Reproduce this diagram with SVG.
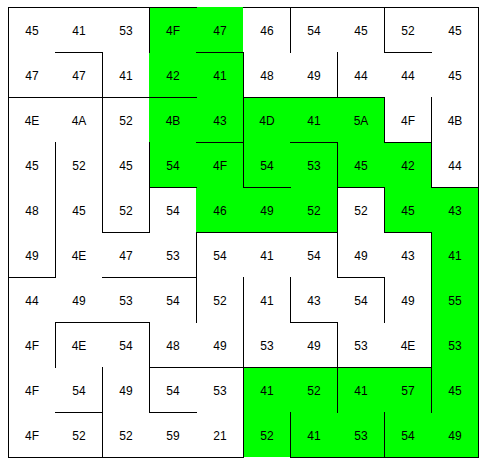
<svg xmlns="http://www.w3.org/2000/svg" width="488" height="465" viewBox="0 0 488 465">
<style>
.bg{fill:#fff}
.g{fill:#00ff00}
text{font-family:"Liberation Sans",Arial,sans-serif;font-size:12px;fill:#000;text-anchor:middle}
.w{fill:none;stroke:#000;stroke-width:1;stroke-linecap:square}
</style>
<rect class="bg" x="0" y="0" width="488" height="465"/>
<g id="cells">
<g id="r0c0"><text x="32" y="35">45</text></g>
<g id="r0c1"><text x="79" y="35">41</text></g>
<g id="r0c2"><text x="126" y="35">53</text></g>
<g id="r0c3"><rect class="g" x="149" y="7" width="47" height="45"/><text x="173" y="35">4F</text></g>
<g id="r0c4"><rect class="g" x="196" y="7" width="47" height="45"/><text x="220" y="35">47</text></g>
<g id="r0c5"><text x="267" y="35">46</text></g>
<g id="r0c6"><text x="314" y="35">54</text></g>
<g id="r0c7"><text x="361" y="35">45</text></g>
<g id="r0c8"><text x="408" y="35">52</text></g>
<g id="r0c9"><text x="455" y="35">45</text></g>

<g id="r1c0"><text x="32" y="80">47</text></g>
<g id="r1c1"><text x="79" y="80">47</text></g>
<g id="r1c2"><text x="126" y="80">41</text></g>
<g id="r1c3"><rect class="g" x="149" y="52" width="47" height="45"/><text x="173" y="80">42</text></g>
<g id="r1c4"><rect class="g" x="196" y="52" width="47" height="45"/><text x="220" y="80">41</text></g>
<g id="r1c5"><text x="267" y="80">48</text></g>
<g id="r1c6"><text x="314" y="80">49</text></g>
<g id="r1c7"><text x="361" y="80">44</text></g>
<g id="r1c8"><text x="408" y="80">44</text></g>
<g id="r1c9"><text x="455" y="80">45</text></g>

<g id="r2c0"><text x="32" y="125">4E</text></g>
<g id="r2c1"><text x="79" y="125">4A</text></g>
<g id="r2c2"><text x="126" y="125">52</text></g>
<g id="r2c3"><rect class="g" x="149" y="97" width="47" height="45"/><text x="173" y="125">4B</text></g>
<g id="r2c4"><rect class="g" x="196" y="97" width="47" height="45"/><text x="220" y="125">43</text></g>
<g id="r2c5"><rect class="g" x="243" y="97" width="47" height="45"/><text x="267" y="125">4D</text></g>
<g id="r2c6"><rect class="g" x="290" y="97" width="47" height="45"/><text x="314" y="125">41</text></g>
<g id="r2c7"><rect class="g" x="337" y="97" width="47" height="45"/><text x="361" y="125">5A</text></g>
<g id="r2c8"><text x="408" y="125">4F</text></g>
<g id="r2c9"><text x="455" y="125">4B</text></g>

<g id="r3c0"><text x="32" y="170">45</text></g>
<g id="r3c1"><text x="79" y="170">52</text></g>
<g id="r3c2"><text x="126" y="170">45</text></g>
<g id="r3c3"><rect class="g" x="149" y="142" width="47" height="45"/><text x="173" y="170">54</text></g>
<g id="r3c4"><rect class="g" x="196" y="142" width="47" height="45"/><text x="220" y="170">4F</text></g>
<g id="r3c5"><rect class="g" x="243" y="142" width="47" height="45"/><text x="267" y="170">54</text></g>
<g id="r3c6"><rect class="g" x="290" y="142" width="47" height="45"/><text x="314" y="170">53</text></g>
<g id="r3c7"><rect class="g" x="337" y="142" width="47" height="45"/><text x="361" y="170">45</text></g>
<g id="r3c8"><rect class="g" x="384" y="142" width="47" height="45"/><text x="408" y="170">42</text></g>
<g id="r3c9"><text x="455" y="170">44</text></g>

<g id="r4c0"><text x="32" y="215">48</text></g>
<g id="r4c1"><text x="79" y="215">45</text></g>
<g id="r4c2"><text x="126" y="215">52</text></g>
<g id="r4c3"><text x="173" y="215">54</text></g>
<g id="r4c4"><rect class="g" x="196" y="187" width="47" height="45"/><text x="220" y="215">46</text></g>
<g id="r4c5"><rect class="g" x="243" y="187" width="47" height="45"/><text x="267" y="215">49</text></g>
<g id="r4c6"><rect class="g" x="290" y="187" width="47" height="45"/><text x="314" y="215">52</text></g>
<g id="r4c7"><text x="361" y="215">52</text></g>
<g id="r4c8"><rect class="g" x="384" y="187" width="47" height="45"/><text x="408" y="215">45</text></g>
<g id="r4c9"><rect class="g" x="431" y="187" width="47" height="45"/><text x="455" y="215">43</text></g>

<g id="r5c0"><text x="32" y="260">49</text></g>
<g id="r5c1"><text x="79" y="260">4E</text></g>
<g id="r5c2"><text x="126" y="260">47</text></g>
<g id="r5c3"><text x="173" y="260">53</text></g>
<g id="r5c4"><text x="220" y="260">54</text></g>
<g id="r5c5"><text x="267" y="260">41</text></g>
<g id="r5c6"><text x="314" y="260">54</text></g>
<g id="r5c7"><text x="361" y="260">49</text></g>
<g id="r5c8"><text x="408" y="260">43</text></g>
<g id="r5c9"><rect class="g" x="431" y="232" width="47" height="45"/><text x="455" y="260">41</text></g>

<g id="r6c0"><text x="32" y="305">44</text></g>
<g id="r6c1"><text x="79" y="305">49</text></g>
<g id="r6c2"><text x="126" y="305">53</text></g>
<g id="r6c3"><text x="173" y="305">54</text></g>
<g id="r6c4"><text x="220" y="305">52</text></g>
<g id="r6c5"><text x="267" y="305">41</text></g>
<g id="r6c6"><text x="314" y="305">43</text></g>
<g id="r6c7"><text x="361" y="305">54</text></g>
<g id="r6c8"><text x="408" y="305">49</text></g>
<g id="r6c9"><rect class="g" x="431" y="277" width="47" height="45"/><text x="455" y="305">55</text></g>

<g id="r7c0"><text x="32" y="350">4F</text></g>
<g id="r7c1"><text x="79" y="350">4E</text></g>
<g id="r7c2"><text x="126" y="350">54</text></g>
<g id="r7c3"><text x="173" y="350">48</text></g>
<g id="r7c4"><text x="220" y="350">49</text></g>
<g id="r7c5"><text x="267" y="350">53</text></g>
<g id="r7c6"><text x="314" y="350">49</text></g>
<g id="r7c7"><text x="361" y="350">53</text></g>
<g id="r7c8"><text x="408" y="350">4E</text></g>
<g id="r7c9"><rect class="g" x="431" y="322" width="47" height="45"/><text x="455" y="350">53</text></g>

<g id="r8c0"><text x="32" y="395">4F</text></g>
<g id="r8c1"><text x="79" y="395">54</text></g>
<g id="r8c2"><text x="126" y="395">49</text></g>
<g id="r8c3"><text x="173" y="395">54</text></g>
<g id="r8c4"><text x="220" y="395">53</text></g>
<g id="r8c5"><rect class="g" x="243" y="367" width="47" height="45"/><text x="267" y="395">41</text></g>
<g id="r8c6"><rect class="g" x="290" y="367" width="47" height="45"/><text x="314" y="395">52</text></g>
<g id="r8c7"><rect class="g" x="337" y="367" width="47" height="45"/><text x="361" y="395">41</text></g>
<g id="r8c8"><rect class="g" x="384" y="367" width="47" height="45"/><text x="408" y="395">57</text></g>
<g id="r8c9"><rect class="g" x="431" y="367" width="47" height="45"/><text x="455" y="395">45</text></g>

<g id="r9c0"><text x="32" y="440">4F</text></g>
<g id="r9c1"><text x="79" y="440">52</text></g>
<g id="r9c2"><text x="126" y="440">52</text></g>
<g id="r9c3"><text x="173" y="440">59</text></g>
<g id="r9c4"><text x="220" y="440">21</text></g>
<g id="r9c5"><rect class="g" x="243" y="412" width="47" height="45"/><text x="267" y="440">52</text></g>
<g id="r9c6"><rect class="g" x="290" y="412" width="47" height="45"/><text x="314" y="440">41</text></g>
<g id="r9c7"><rect class="g" x="337" y="412" width="47" height="45"/><text x="361" y="440">53</text></g>
<g id="r9c8"><rect class="g" x="384" y="412" width="47" height="45"/><text x="408" y="440">54</text></g>
<g id="r9c9"><rect class="g" x="431" y="412" width="47" height="45"/><text x="455" y="440">49</text></g>
</g>
<g id="walls">
<path class="w" d="M8.5 7.5H196.5M243.5 7.5H478.5M8.5 457.5H243.5M290.5 457.5H478.5M8.5 7.5V457.5M478.5 7.5V457.5"/>
<path class="w" d="M55.5 52.5H102.5M196.5 52.5H243.5M384.5 52.5H431.5M8.5 97.5H196.5M243.5 97.5H384.5M196.5 142.5H243.5M290.5 142.5H337.5M384.5 142.5H431.5M149.5 187.5H196.5M243.5 187.5H290.5M337.5 187.5H384.5M431.5 187.5H478.5M102.5 232.5H149.5M196.5 232.5H337.5M384.5 232.5H431.5M8.5 277.5H55.5M102.5 277.5H196.5M337.5 277.5H384.5M55.5 322.5H149.5M290.5 322.5H337.5M149.5 367.5H431.5M55.5 412.5H102.5M149.5 412.5H196.5"/>
<path class="w" d="M55.5 142.5V277.5M55.5 322.5V367.5M102.5 52.5V232.5M102.5 367.5V457.5M149.5 7.5V52.5M149.5 142.5V232.5M149.5 322.5V412.5M196.5 232.5V322.5M243.5 52.5V187.5M243.5 277.5V457.5M290.5 7.5V52.5M290.5 277.5V322.5M290.5 412.5V457.5M337.5 52.5V97.5M337.5 142.5V277.5M337.5 322.5V412.5M384.5 7.5V52.5M384.5 97.5V142.5M384.5 187.5V232.5M384.5 277.5V322.5M384.5 412.5V457.5M431.5 97.5V187.5M431.5 232.5V412.5"/>
</g>
</svg>
